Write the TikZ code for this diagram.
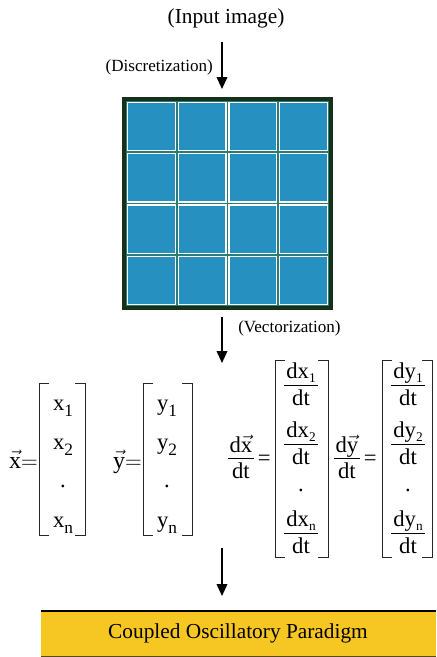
\documentclass[tikz,border=0pt]{standalone}
\usepackage{amsmath}
\usepackage{fontspec}
\setmainfont{Liberation Serif}
\usetikzlibrary{arrows.meta}
\definecolor{cellblue}{HTML}{2690C1}
\definecolor{gridteal}{HTML}{2A7C78}
\definecolor{framegreen}{HTML}{16301A}
\definecolor{boxyellow}{HTML}{F6C622}
\definecolor{boxbrown}{HTML}{5A4A10}
\newcommand\mybrackets[4]{%
  \draw[brk] ({#1+10},#2) -- (#1,#2) -- (#1,#4) -- ({#1+10},#4);
  \draw[brk] ({#3-10},#2) -- (#3,#2) -- (#3,#4) -- ({#3-10},#4);}
\newcommand\vsub[1]{\raisebox{-4.5pt}{\fontsize{13}{13}\selectfont #1}}
\newcommand\fsub[1]{\raisebox{-3pt}{\fontsize{10}{10}\selectfont #1}}
\newcommand\vecx[1]{$\vec{\text{#1}}$}
\newcommand\myfrac[2]{{\renewcommand\arraystretch{0.8}%
  \begin{tabular}{@{\hspace{1.5pt}}c@{\hspace{1.5pt}}}#1\\\hline\rule{0pt}{15pt}#2\end{tabular}}}
\begin{document}
\begin{tikzpicture}[x=0.75pt,y=-0.75pt,
  flow/.style={line width=1.2pt,-{Triangle[width=8pt,length=9pt]}},
  big/.style={font=\fontsize{16}{19}\selectfont, inner sep=0pt},
  small/.style={font=\fontsize{12.8}{15}\selectfont, inner sep=0pt},
  ent/.style={font=\fontsize{17}{19}\selectfont, inner sep=0pt},
  brk/.style={line width=0.7pt, black!85},
  cell/.style={fill=cellblue, draw=white, line width=0.9pt}]
\useasboundingbox (0,0) rectangle (436,657);
% title
\node[big] (inp) at (226,18) {(Input image)};
\coordinate (a1s) at (222,42);
\coordinate (a1e) at (222,89);
\draw[flow] (a1s) -- (a1e);
\node[small, anchor=east] (disc) at (213,67) {(Discretization)};
% grid
\fill[framegreen] (122,97) rectangle (333,310);
\fill[gridteal] (126,101) rectangle (329,306);
\foreach \i in {0,1,2,3}{
  \foreach \j in {0,1,2,3}{
    \draw[cell] ({126+50.75*\i+1.5},{101+51.25*\j+1.5}) rectangle ({126+50.75*(\i+1)-1.5},{101+51.25*(\j+1)-1.5});
  }}
\coordinate (a2s) at (222,317);
\coordinate (a2e) at (222,363);
\draw[flow] (a2s) -- (a2e);
\node[small, anchor=west] (vect) at (238,328) {(Vectorization)};
% x vector
\node[ent, anchor=base east] (xeq) at (38,468) {\fontsize{18}{19}\selectfont\vecx{x}$=$};
\mybrackets{39}{383}{85}{535}
\node[ent, anchor=base] (x1) at (63,410) {x\vsub{1}};
\node[ent, anchor=base] (x2) at (63,449) {x\vsub{2}};
\node[ent] (xd) at (63,486) {.};
\node[ent, anchor=base] (xn) at (63,527) {x\vsub{n}};
% y vector
\node[ent, anchor=base east] (yeq) at (142,468) {\fontsize{18}{19}\selectfont\vecx{y}$=$};
\mybrackets{143}{383}{192}{535}
\node[ent, anchor=base] (y1) at (167,410) {y\vsub{1}};
\node[ent, anchor=base] (y2) at (167,449) {y\vsub{2}};
\node[ent] (yd) at (167,486) {.};
\node[ent, anchor=base] (yn) at (167,527) {y\vsub{n}};
% dx/dt
\node[ent, anchor=east] (dxeq) at (271,460) {\myfrac{d\vecx{x}}{dt}\,=};
\mybrackets{275}{360}{328}{557}
\node[ent] (dx1) at (301,387) {\myfrac{dx\fsub{1}}{dt}};
\node[ent] (dx2) at (301,446) {\myfrac{dx\fsub{2}}{dt}};
\node[ent] (dxd) at (301,490) {.};
\node[ent] (dxn) at (301,535) {\myfrac{dx\fsub{n}}{dt}};
% dy/dt
\node[ent, anchor=east] (dyeq) at (377,460) {\myfrac{d\vecx{y}}{dt}\,=};
\mybrackets{382}{360}{432}{557}
\node[ent] (dy1) at (408,387) {\myfrac{dy\fsub{1}}{dt}};
\node[ent] (dy2) at (408,446) {\myfrac{dy\fsub{2}}{dt}};
\node[ent] (dyd) at (408,490) {.};
\node[ent] (dyn) at (408,535) {\myfrac{dy\fsub{n}}{dt}};
% arrow 3
\coordinate (a3s) at (222,548);
\coordinate (a3e) at (222,596);
\draw[flow] (a3s) -- (a3e);
% box
\fill[boxyellow] (41,611) rectangle (436,657);
\draw[line width=1.5pt] (41,611) -- (436,611);
\draw[boxbrown, line width=0.8pt] (41,656.5) -- (436,656.5);
\node[big] (cop) at (238,633) {Coupled Oscillatory Paradigm};
\end{tikzpicture}
\end{document}
